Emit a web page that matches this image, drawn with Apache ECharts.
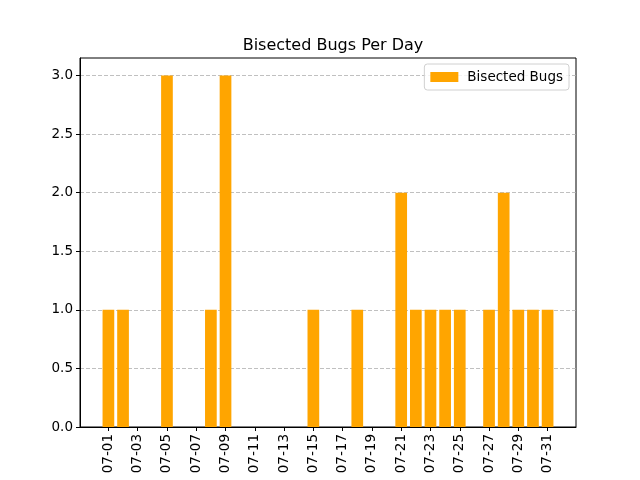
<!DOCTYPE html>
<html>
<head>
<meta charset="utf-8">
<script src="https://cdn.jsdelivr.net/npm/echarts@6/dist/echarts.min.js"></script>
<style>html,body{margin:0;padding:0;background:#fff;}#c{width:640px;height:480px;}</style>
</head>
<body>
<div id="c"></div>
<script>
var days = [1,2,5,8,9,15,18,21,22,23,24,25,27,28,29,30,31];
var bugs = [1,1,3,1,3,1,1,2,1,1,1,1,1,2,1,1,1];
var xTickDays = [1,3,5,7,9,11,13,15,17,19,21,23,25,27,29,31];
var yTicks = [0,0.5,1,1.5,2,2.5,3];
var monthLabel = '07';
var seriesName = 'Bisected Bugs';

var chart = echarts.init(document.getElementById('c'), null, {renderer:'canvas'});
var font = 'DejaVu Sans';
var data = days.map(function(d,i){return [d, bugs[i]];});
var xMin = 1 - 0.4 - 0.05*30.8, xMax = 31 + 0.4 + 0.05*30.8;
chart.setOption({
  animation:false,
  backgroundColor:'#fff',
  title:{text:'Bisected Bugs Per Day', left:328, top:33, textAlign:'center',
    textStyle:{fontFamily:font, fontSize:16, fontWeight:'normal', color:'#000'}},
  legend:{data:[{name:seriesName, icon:'rect'}], right:71, top:64, orient:'vertical',
    itemWidth:28, itemHeight:10, itemGap:5,
    padding:[6,6,6,6], borderColor:'#d0d0d0', borderWidth:1, borderRadius:3,
    backgroundColor:'rgba(255,255,255,0.8)',
    textStyle:{fontFamily:font, fontSize:13.5, color:'#000', padding:[0,0,0,4]}},
  grid:{left:80, right:64, top:58, bottom:53, show:true, borderColor:'#000', borderWidth:1, containLabel:false},
  xAxis:{type:'value', min:xMin, max:xMax,
    axisLine:{show:true, onZero:false, lineStyle:{color:'#000'}},
    axisTick:{show:true, length:4, customValues:xTickDays, lineStyle:{color:'#000'}},
    axisLabel:{rotate:90, customValues:xTickDays, fontFamily:font, fontSize:13.5, color:'#000', margin:7,
      formatter:function(v){var d=Math.round(v);return monthLabel+'-'+(d<10?'0':'')+d;}},
    splitLine:{show:false}},
  yAxis:{type:'value', min:0, max:3.15,
    axisLine:{show:true, onZero:false, lineStyle:{color:'#000'}},
    axisTick:{show:true, length:4, customValues:yTicks, lineStyle:{color:'#000'}},
    axisLabel:{customValues:yTicks, fontFamily:font, fontSize:13.5, color:'#000', margin:7,
      formatter:function(v){return v.toFixed(1);}},
    splitLine:{show:true, lineStyle:{color:'#b0b0b0', type:[4,2], width:0.8}}},
  series:[{name:seriesName, type:'bar', data:data, barWidth:11.7,
    itemStyle:{color:'#FFA500'}, z:3}]
});
</script>
</body>
</html>
